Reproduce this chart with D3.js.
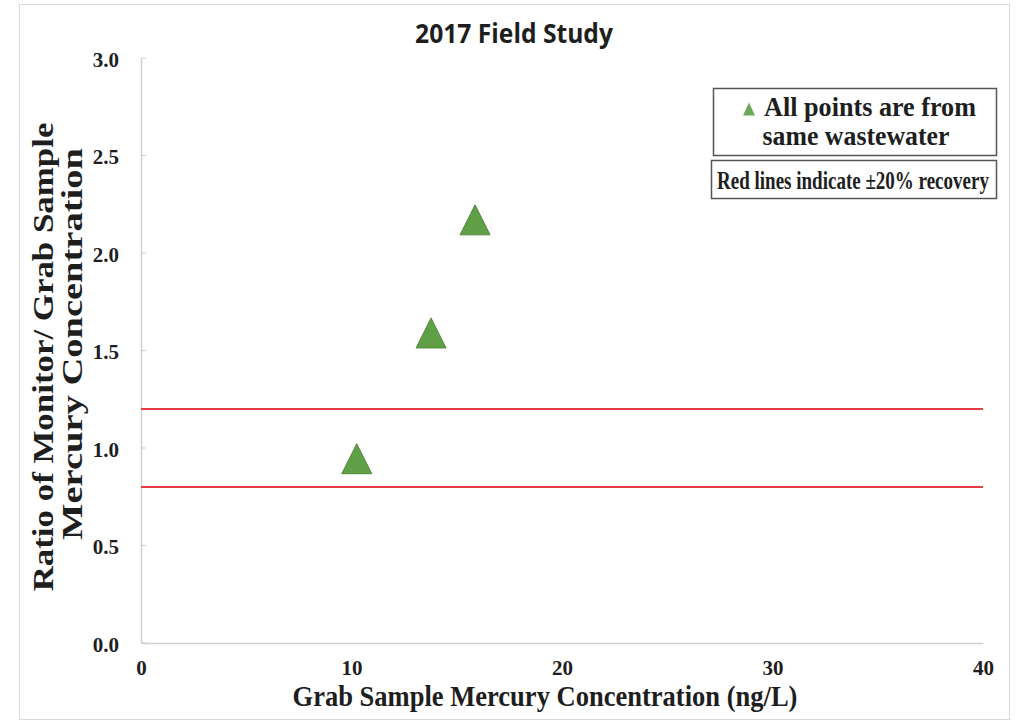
<!DOCTYPE html>
<html>
<head>
<meta charset="utf-8">
<script src="https://cdn.jsdelivr.net/npm/d3@7"></script>
<style>
  html, body { margin: 0; padding: 0; background: #fff; }
  svg { display: block; }
</style>
</head>
<body>
<svg id="chart" width="1020" height="723"></svg>
<script>
// ---- data ----
const xTicks = [0, 10, 20, 30, 40];
const yTicks = [0.0, 0.5, 1.0, 1.5, 2.0, 2.5, 3.0];
const grabConc = [10.25, 13.78, 15.87];
const ratio = [0.945, 1.59, 2.17];
const recoveryLines = [1.2, 0.8];
const title = "2017 Field Study";
const xTitle = "Grab Sample Mercury Concentration (ng/L)";
const yTitleLines = ["Ratio of Monitor/ Grab Sample", "Mercury Concentration"];
const legend1 = ["All points are from", "same wastewater"];
const legend2 = "Red lines indicate \u00B120% recovery";

const svg = d3.select("#chart");
const serif = "'Liberation Serif', 'Times New Roman', serif";
const sans = "'Open Sans', 'Noto Sans', sans-serif";
const ink = "#1e1e1e";

// place a text centred at (cx, base), stretched along its direction to a given length
function label(txt, cx, base, opts) {
  const g = svg.append("g");
  const t = g.append("text").attr("text-anchor", "middle")
    .attr("font-family", opts.family || serif).attr("font-weight", "bold")
    .attr("font-size", opts.size).attr("fill", ink).text(txt);
  const natural = t.node().getComputedTextLength();
  const s = opts.len ? opts.len / natural : 1;
  const sy = opts.sy || 1;
  g.attr("transform", `translate(${cx},${base})` + (opts.rot ? ` rotate(${opts.rot})` : "") + ` scale(${s},${sy})`);
  return t;
}

// outer chart border
svg.append("rect").attr("x", 19.5).attr("y", 4.5).attr("width", 990).attr("height", 715)
  .attr("fill", "#fff").attr("stroke", "#d9d9d9").attr("stroke-width", 1);

const x = d3.scaleLinear().domain([0, 40]).range([141, 983]);
const y = d3.scaleLinear().domain([0, 3]).range([643, 58]);

// axes
const xAxis = svg.append("g").attr("transform", `translate(0,${y(0)})`)
  .call(d3.axisBottom(x).tickValues(xTicks).tickSize(0).tickPadding(20).tickFormat(d3.format("d")));
const yAxis = svg.append("g").attr("transform", `translate(${x(0)},0)`)
  .call(d3.axisLeft(y).tickValues(yTicks).tickSize(0).tickPadding(22).tickFormat(d3.format(".1f")));
[xAxis, yAxis].forEach(g => {
  g.attr("font-size", null).attr("font-family", null);
  g.select(".domain").attr("stroke", "#d0d0d0").attr("stroke-width", 1.5);
  g.selectAll("text").style("font-family", serif).style("font-weight", "bold")
    .style("font-size", "21px").attr("fill", ink);
});
xAxis.selectAll("text").attr("dy", null).attr("y", 32);
yAxis.selectAll("text").attr("dy", null).attr("y", 8);
// small inner tick marks on y axis
svg.append("g").selectAll("line").data(yTicks).join("line")
  .attr("x1", x(0)).attr("x2", x(0) + 5)
  .attr("y1", d => y(d)).attr("y2", d => y(d))
  .attr("stroke", "#d0d0d0").attr("stroke-width", 1);

// red recovery lines
svg.append("g").selectAll("line").data(recoveryLines).join("line")
  .attr("x1", x(0)).attr("x2", x(40))
  .attr("y1", d => y(d)).attr("y2", d => y(d))
  .attr("stroke", "#e63c44").attr("stroke-width", 2);

// points (triangle marker, 30px wide x 30px tall, centred on the value)
const marker = (cx, cy, w, h) =>
  `M${cx},${cy - h / 2}L${cx + w / 2},${cy + h / 2}L${cx - w / 2},${cy + h / 2}Z`;
svg.append("g").selectAll("path").data(grabConc.map((v, i) => [v, ratio[i]])).join("path")
  .attr("d", d => marker(x(d[0]), y(d[1]), 30, 30))
  .attr("fill", "#5f9f46").attr("stroke", "#55883f").attr("stroke-width", 1);

// title
label(title, 514, 43, {family: sans, size: 23, len: 198, sy: 1.15});

// x title
label(xTitle, 545, 706, {size: 26, len: 505, sy: 1.1});

// y title
label(yTitleLines[0], 53, 357, {size: 30, len: 469, rot: -90});
label(yTitleLines[1], 82, 344, {size: 30, len: 392, rot: -90});

// legend box 1
svg.append("rect").attr("x", 713.5).attr("y", 88.5).attr("width", 283).attr("height", 67)
  .attr("fill", "#fff").attr("stroke", "#555").attr("stroke-width", 1.5);
svg.append("path").attr("d", marker(749, 109, 12, 13)).attr("fill", "#6aa85a");
label(legend1[0], 870, 116, {size: 24, len: 212, sy: 1.1});
label(legend1[1], 856, 145, {size: 24, len: 187, sy: 1.1});

// legend box 2
svg.append("rect").attr("x", 711.5).attr("y", 160.5).attr("width", 285).attr("height", 38)
  .attr("fill", "#fff").attr("stroke", "#555").attr("stroke-width", 1.5);
label(legend2, 853, 189, {size: 23, len: 272, sy: 1.12});
</script>
</body>
</html>
